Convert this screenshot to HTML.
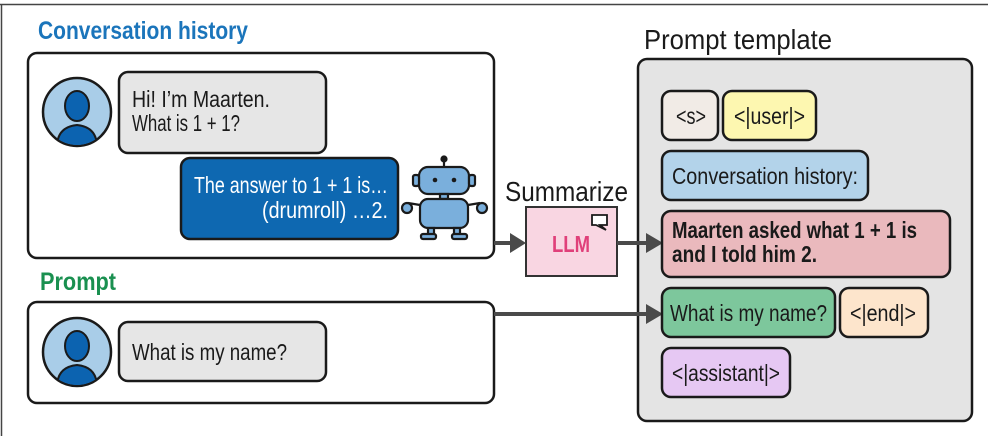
<!DOCTYPE html>
<html><head><meta charset="utf-8"><style>
html,body{margin:0;padding:0;background:#fff;}
svg{display:block;}
text{font-family:"Liberation Sans",sans-serif;}
</style></head><body>
<svg width="988" height="436" viewBox="0 0 988 436" xmlns="http://www.w3.org/2000/svg">
<line x1="0" y1="4.5" x2="988" y2="4.5" stroke="#444" stroke-width="1.5"/>
<line x1="1.5" y1="4" x2="1.5" y2="436" stroke="#444" stroke-width="1.5"/>

<text x="38" y="39" font-size="25" fill="#1b75bb" font-weight="bold" textLength="210" lengthAdjust="spacingAndGlyphs">Conversation history</text>
<rect x="28" y="53" width="466" height="205" rx="9" fill="#fff" stroke="#1a1a1a" stroke-width="2.5"/>
<g>
<circle cx="77" cy="112" r="34" fill="#a9cde8" stroke="#1a1a1a" stroke-width="2.5"/>
<clipPath id="c1"><circle cx="77" cy="112" r="33"/></clipPath>
<g clip-path="url(#c1)" fill="#0c63b0" stroke="#1a1a1a" stroke-width="2">
<path d="M57 147 Q57 127 77 125 Q97 127 97 147 Z"/>
<ellipse cx="77" cy="106" rx="12" ry="15"/>
</g>
</g>
<rect x="119" y="72" width="207" height="81" rx="9" fill="#e6e6e6" stroke="#1a1a1a" stroke-width="2.5"/>
<text x="132" y="107" font-size="23" fill="#1a1a1a" textLength="138" lengthAdjust="spacingAndGlyphs">Hi! I’m Maarten.</text>
<text x="132" y="131" font-size="23" fill="#1a1a1a" textLength="108" lengthAdjust="spacingAndGlyphs">What is 1 + 1?</text>
<rect x="181" y="158" width="217" height="81" rx="9" fill="#0e68b1" stroke="#1a1a1a" stroke-width="2.5"/>
<text x="194" y="193" font-size="23" fill="#fff" textLength="194" lengthAdjust="spacingAndGlyphs">The answer to 1 + 1 is…</text>
<text x="262" y="218" font-size="23" fill="#fff" textLength="126" lengthAdjust="spacingAndGlyphs">(drumroll) …2.</text>
<g stroke="#1a1a1a" stroke-width="2.2" fill="#7aafdc">
<line x1="444" y1="160" x2="444" y2="168"/>
<circle cx="444" cy="159" r="2.5" fill="#1a1a1a"/>
<rect x="419" y="167" width="50" height="27" rx="9"/>
<rect x="413" y="175" width="6" height="11" rx="2"/>
<rect x="469" y="175" width="6" height="11" rx="2"/>
<rect x="440" y="194" width="8" height="5"/>
<rect x="420" y="199" width="48" height="29" rx="8"/>
<path d="M420 205 L408 203 M468 205 L480 203" fill="none"/>
<circle cx="407" cy="208" r="5"/>
<circle cx="482" cy="208" r="5"/>
<rect x="428" y="228" width="6" height="7"/>
<rect x="454" y="228" width="6" height="7"/>
<rect x="421" y="234" width="15" height="5" rx="2"/>
<rect x="452" y="234" width="15" height="5" rx="2"/>
</g>
<circle cx="435" cy="180" r="2.3" fill="#1a1a1a"/>
<circle cx="454" cy="180" r="2.3" fill="#1a1a1a"/>

<text x="40" y="290" font-size="25" fill="#1a9050" font-weight="bold" textLength="76" lengthAdjust="spacingAndGlyphs">Prompt</text>
<rect x="28" y="302" width="466" height="101" rx="9" fill="#fff" stroke="#1a1a1a" stroke-width="2.5"/>
<g>
<circle cx="77" cy="352" r="34" fill="#a9cde8" stroke="#1a1a1a" stroke-width="2.5"/>
<clipPath id="c2"><circle cx="77" cy="352" r="33"/></clipPath>
<g clip-path="url(#c2)" fill="#0c63b0" stroke="#1a1a1a" stroke-width="2">
<path d="M57 387 Q57 367 77 365 Q97 367 97 387 Z"/>
<ellipse cx="77" cy="346" rx="12" ry="15"/>
</g>
</g>
<rect x="119" y="322" width="207" height="59" rx="9" fill="#e6e6e6" stroke="#1a1a1a" stroke-width="2.5"/>
<text x="132" y="360" font-size="23" fill="#1a1a1a" textLength="155" lengthAdjust="spacingAndGlyphs">What is my name?</text>

<text x="505" y="201" font-size="28" fill="#1a1a1a" textLength="123" lengthAdjust="spacingAndGlyphs">Summarize</text>
<rect x="526" y="207" width="91" height="69" fill="#f9d6e2" stroke="#333" stroke-width="2"/>
<text x="552" y="252" font-size="23" fill="#e0407a" font-weight="bold" textLength="38" lengthAdjust="spacingAndGlyphs">LLM</text>
<path d="M592 215 H607 V225 H600 L606 230 L596 225 H592 Z" fill="#fff" stroke="#1a1a1a" stroke-width="1.8"/>

<text x="644" y="49" font-size="28" fill="#1a1a1a" textLength="188" lengthAdjust="spacingAndGlyphs">Prompt template</text>
<rect x="638" y="59" width="334" height="362" rx="9" fill="#e4e4e4" stroke="#1a1a1a" stroke-width="2.5"/>

<g fill="#4a4a4a" stroke="#4a4a4a">
<line x1="494" y1="243" x2="512" y2="243" stroke-width="4"/>
<path d="M510 233 L526 243 L510 253 Z" stroke="none"/>
<line x1="617" y1="243" x2="648" y2="243" stroke-width="4"/>
<path d="M646 233 L663 243 L646 253 Z" stroke="none"/>
<line x1="494" y1="314" x2="648" y2="314" stroke-width="4"/>
<path d="M646 304 L663 314 L646 324 Z" stroke="none"/>
</g>

<g stroke="#1a1a1a" stroke-width="2.5">
<rect x="662" y="91" width="56" height="49" rx="9" fill="#f1ebe6"/>
<rect x="723" y="91" width="93" height="49" rx="9" fill="#fdf7b0"/>
<rect x="662" y="151" width="206" height="49" rx="9" fill="#b3d3ea"/>
<rect x="662" y="211" width="288" height="66" rx="9" fill="#eab9bd"/>
<rect x="662" y="288" width="173" height="49" rx="9" fill="#7dc79c"/>
<rect x="840" y="288" width="88" height="49" rx="9" fill="#fde5cc"/>
<rect x="662" y="348" width="128" height="49" rx="9" fill="#e6c8f3"/>
</g>
<g font-size="23" fill="#1a1a1a">
<text x="676" y="124" textLength="30" lengthAdjust="spacingAndGlyphs">&lt;s&gt;</text>
<text x="734" y="124" textLength="71" lengthAdjust="spacingAndGlyphs">&lt;|user|&gt;</text>
<text x="672" y="184" textLength="186" lengthAdjust="spacingAndGlyphs">Conversation history:</text>
<text x="672" y="238" font-weight="bold" textLength="245" lengthAdjust="spacingAndGlyphs">Maarten asked what 1 + 1 is</text>
<text x="672" y="262" font-weight="bold" textLength="145" lengthAdjust="spacingAndGlyphs">and I told him 2.</text>
<text x="670" y="321" textLength="157" lengthAdjust="spacingAndGlyphs">What is my name?</text>
<text x="850" y="321" textLength="66" lengthAdjust="spacingAndGlyphs">&lt;|end|&gt;</text>
<text x="672" y="381" textLength="108" lengthAdjust="spacingAndGlyphs">&lt;|assistant|&gt;</text>
</g>
</svg>
</body></html>
